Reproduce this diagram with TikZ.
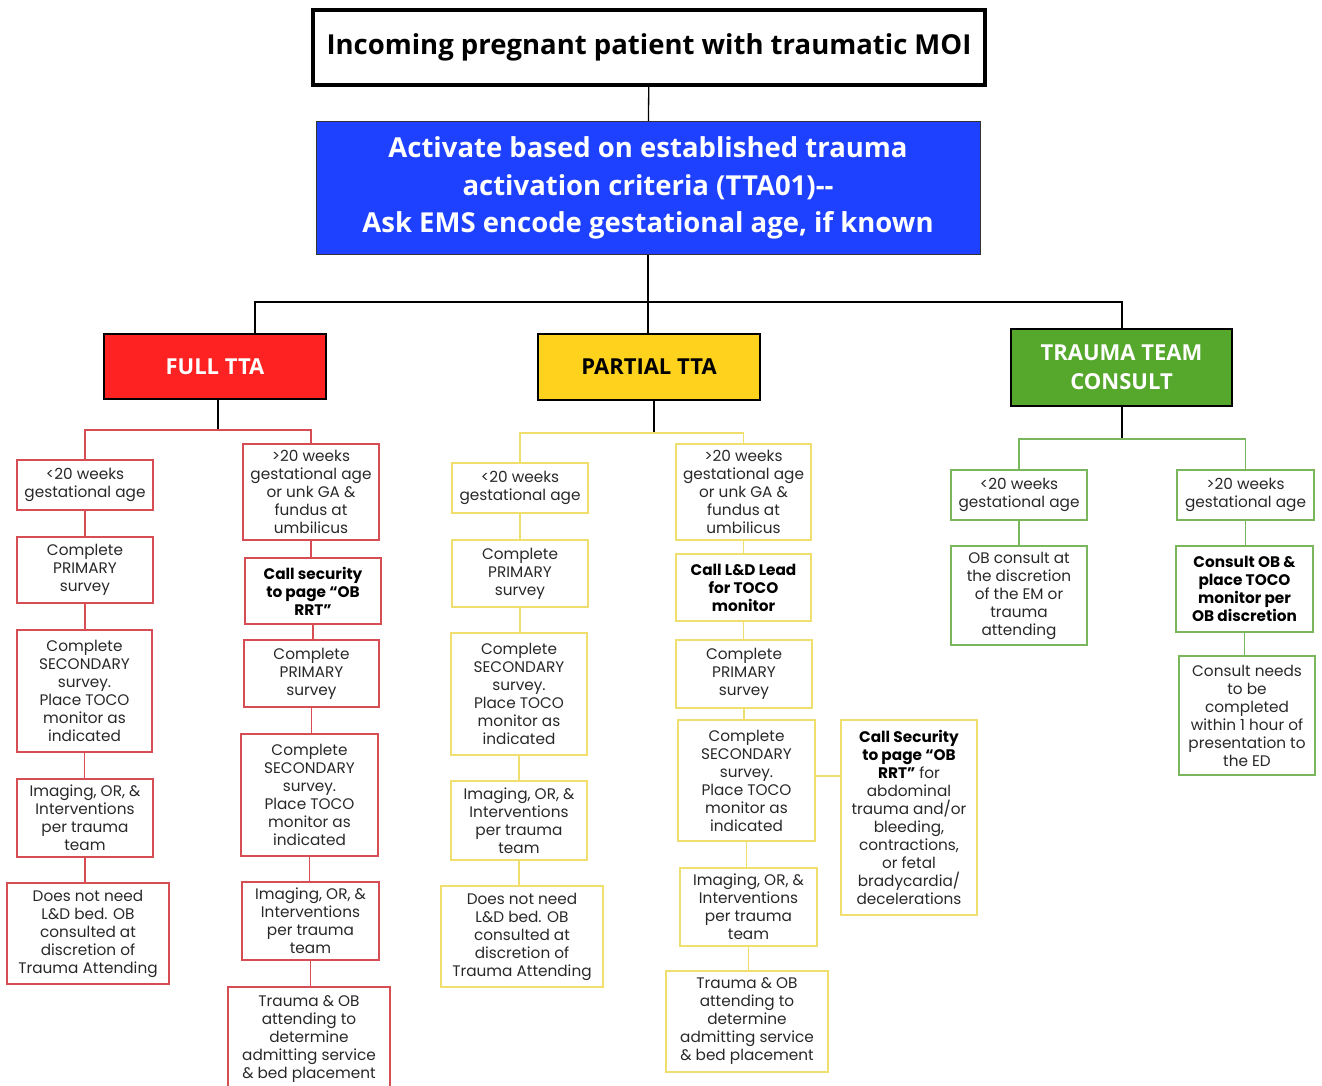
\documentclass[tikz,border=0pt]{standalone}
\usepackage{fontspec}
\setmainfont{Poppins}
\newfontfamily\headf{Open Sans}
\definecolor{redc}{RGB}{214,78,84}
\definecolor{yelc}{RGB}{240,222,110}
\definecolor{grnc}{RGB}{122,182,92}
\definecolor{fullfill}{RGB}{255,34,34}
\definecolor{partfill}{RGB}{255,210,30}
\definecolor{tfill}{RGB}{86,168,44}
\definecolor{bluefill}{RGB}{30,65,255}
\definecolor{txt}{RGB}{40,40,40}
\tikzset{
  sz/.style 2 args={minimum width=#1pt, minimum height=#2pt},
  sbox/.style={draw, line width=1.6pt, align=center, inner sep=0pt, text=txt,
    font=\fontsize{15.3}{18}\selectfont},
  bsb/.style={font=\fontsize{15.3}{18}\selectfont\bfseries, text=black},
  rbox/.style={sbox, draw=redc},
  ybox/.style={sbox, draw=yelc},
  gbox/.style={sbox, draw=grnc},
  hdr/.style={draw=black, line width=2.2pt, align=center, inner sep=0pt,
    font=\headf\bfseries\fontsize{22}{29}\selectfont},
  blk/.style={draw=black, line width=1.3pt},
  rl/.style={draw=redc, line width=1.8pt},
  yl/.style={draw=yelc, line width=1.8pt},
  gl/.style={draw=grnc, line width=1.8pt}
}
\begin{document}
\begin{tikzpicture}[x=1pt,y=-1pt]
\useasboundingbox (0,0) rectangle (1322,1086);
% top
\node[draw=black, line width=4pt, inner sep=0pt, sz={672}{75},
  font=\headf\bfseries\fontsize{27.5}{30}\selectfont] (top) at (649,47.5)
  {Incoming pregnant patient with traumatic MOI};
\node[draw=black!80, line width=1pt, fill=bluefill, text=white, align=center, inner sep=0pt, sz={664}{133},
  font=\headf\bfseries\fontsize{27.5}{37.5}\selectfont] (blue) at (648,188)
  {Activate based on established trauma\\activation criteria (TTA01)--\\Ask EMS encode gestational age, if known};
\node[hdr, fill=fullfill, text=white, sz={222}{65}] (full) at (215,366.5) {FULL TTA};
\node[hdr, fill=partfill, text=black, sz={222}{66}] (part) at (649,367) {PARTIAL TTA};
\node[hdr, fill=tfill, text=white, sz={221}{77}] (tcon) at (1121.5,367.5) {TRAUMA TEAM\\CONSULT};
\draw[blk] (top) -- (blue);
\coordinate (hm) at (648,302);
\coordinate (hl) at (255,302);
\coordinate (hr) at (1122,302);
\draw[blk] (blue.south) -- (hm);
\draw[blk] (hl |- full.north) -- (hl) -- (hr) -- (hr |- tcon.north);
\draw[blk] (hm) -- (hm |- part.north);
% FULL TTA column
\node[rbox, sz={136}{50}] (r1) at (85,485) {<20 weeks\\gestational age};
\node[rbox, sz={136}{66}] (r2) at (85,570) {Complete\\PRIMARY\\survey};
\node[rbox, sz={135}{122}] (r3) at (84.5,691) {Complete\\SECONDARY\\survey.\\Place TOCO\\monitor as\\indicated};
\node[rbox, sz={136}{78}] (r4) at (85,818) {Imaging, OR, \&\\Interventions\\per trauma\\team};
\node[rbox, sz={162}{101}] (r5) at (88,933.5) {Does not need\\L\&D bed. OB\\consulted at\\discretion of\\Trauma Attending};
\node[rbox, sz={136}{96}] (r6) at (311,492) {>20 weeks\\gestational age\\or unk GA \&\\fundus at\\umbilicus};
\node[rbox, sz={136}{66}, bsb] (r7) at (313,591) {Call security\\to page “OB\\RRT”};
\node[rbox, sz={135}{67}] (r8) at (311.5,673.5) {Complete\\PRIMARY\\survey};
\node[rbox, sz={137}{122}] (r9) at (309.5,795) {Complete\\SECONDARY\\survey.\\Place TOCO\\monitor as\\indicated};
\node[rbox, sz={137}{78}] (r10) at (310.5,921) {Imaging, OR, \&\\Interventions\\per trauma\\team};
\node[rbox, sz={162}{104}] (r11) at (309,1039) {Trauma \& OB\\attending to\\determine\\admitting service\\\& bed placement};
\coordinate (fj) at (218,430);
\draw[blk] (fj |- full.south) -- (fj);
\draw[rl] (r1.north) |- (fj) -| (r6.north);
\foreach \a/\b in {r1/r2,r2/r3,r3/r4,r4/r5,r6/r7,r7/r8,r8/r9,r9/r10,r10/r11}
  \draw[rl] (\a.south) -- (\a.south |- \b.north);
% PARTIAL TTA column
\node[ybox, sz={136}{50}] (y1) at (520,488) {<20 weeks\\gestational age};
\node[ybox, sz={136}{67}] (y2) at (520,573.5) {Complete\\PRIMARY\\survey};
\node[ybox, sz={136}{122}] (y3) at (519,694) {Complete\\SECONDARY\\survey.\\Place TOCO\\monitor as\\indicated};
\node[ybox, sz={136}{79}] (y4) at (519,820.5) {Imaging, OR, \&\\Interventions\\per trauma\\team};
\node[ybox, sz={162}{101}] (y5) at (522,936.5) {Does not need\\L\&D bed. OB\\consulted at\\discretion of\\Trauma Attending};
\node[ybox, sz={135}{96}] (y6) at (743.5,492) {>20 weeks\\gestational age\\or unk GA \&\\fundus at\\umbilicus};
\node[ybox, sz={135}{67}, bsb] (y7) at (743.5,587.5) {Call L\&D Lead\\for TOCO\\monitor};
\node[ybox, sz={136}{68}] (y8) at (744,674) {Complete\\PRIMARY\\survey};
\node[ybox, sz={137}{121}] (y9) at (746.5,780.5) {Complete\\SECONDARY\\survey.\\Place TOCO\\monitor as\\indicated};
\node[ybox, sz={137}{78}] (y10) at (748.5,907) {Imaging, OR, \&\\Interventions\\per trauma\\team};
\node[ybox, sz={162}{101}] (y11) at (747,1021.5) {Trauma \& OB\\attending to\\determine\\admitting service\\\& bed placement};
\node[ybox, sz={136}{195}] (y12) at (909,817.5) {\textbf{\color{black}Call Security}\\\textbf{\color{black}to page “OB}\\\textbf{\color{black}RRT”} for\\abdominal\\trauma and/or\\bleeding,\\contractions,\\or fetal\\bradycardia/\\decelerations};
\coordinate (pj) at (654,433);
\draw[blk] (pj |- part.south) -- (pj);
\draw[yl] (y1.north) |- (pj) -| (y6.north);
\foreach \a/\b in {y1/y2,y2/y3,y3/y4,y4/y5,y6/y7,y7/y8,y8/y9,y9/y10,y10/y11}
  \draw[yl] (\a.south) -- (\a.south |- \b.north);
\draw[yl] (y9.east |- 0,776) -- (y12.west |- 0,776);
% TRAUMA TEAM CONSULT column
\node[gbox, sz={136}{50}] (g1) at (1019,495) {<20 weeks\\gestational age};
\node[gbox, sz={136}{99}] (g2) at (1019,595.5) {OB consult at\\the discretion\\of the EM or\\trauma\\attending};
\node[gbox, sz={137}{50}] (g3) at (1245.5,495) {>20 weeks\\gestational age};
\node[gbox, sz={137}{86}, bsb] (g4) at (1244.5,589) {Consult OB \&\\place TOCO\\monitor per\\OB discretion};
\node[gbox, sz={136}{119}] (g5) at (1247,715.5) {Consult needs\\to be\\completed\\within 1 hour of\\presentation to\\the ED};
\coordinate (tj) at (1122,439);
\draw[blk] (tj |- tcon.south) -- (tj);
\draw[gl] (g1.north) |- (tj) -| (g3.north);
\foreach \a/\b in {g1/g2,g3/g4,g4/g5}
  \draw[gl] (\a.south) -- (\a.south |- \b.north);
\end{tikzpicture}
\end{document}
